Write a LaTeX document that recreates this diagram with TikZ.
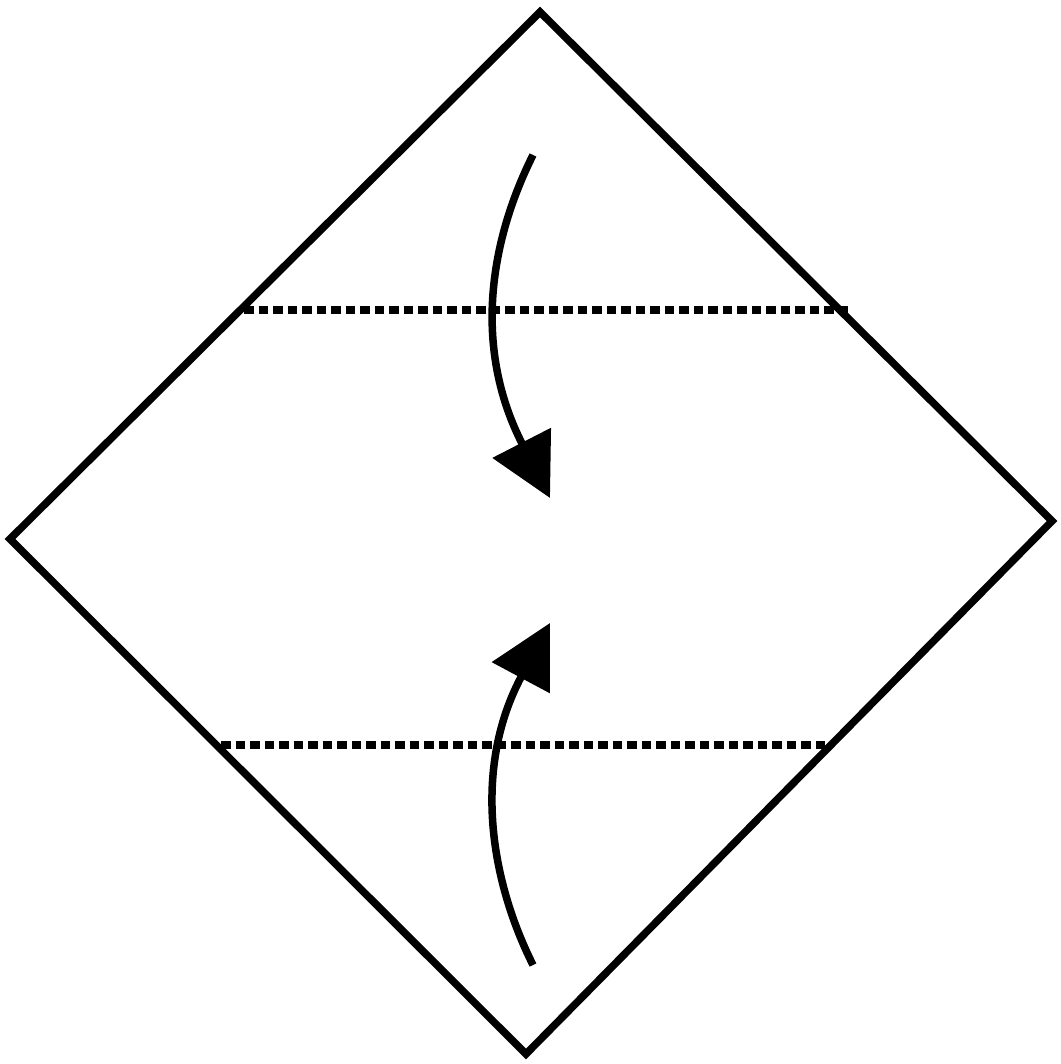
\documentclass[tikz,border=0pt]{standalone}
\usepackage{tikz}
\usetikzlibrary{arrows.meta}
\definecolor{inkc}{HTML}{000000}
\tikzset{
  edge/.style={draw=inkc, line width=0.075cm, line join=miter},
  crease/.style={draw=inkc, line width=0.075cm, dash pattern=on 0.095cm off 0.05cm},
  flap/.style={draw=inkc, line width=0.075cm, -{Triangle[length=0.62cm,width=0.64cm]}},
}

\begin{document}
\begin{tikzpicture}[x=0.01cm, y=-0.01cm]
\useasboundingbox (0,0) rectangle (1061,1064);
\coordinate (top) at (540,12);
\coordinate (right) at (1052,521);
\coordinate (bottom) at (526,1054);
\coordinate (left) at (10,539);
\draw[edge] (top) -- (right) -- (bottom) -- (left) -- cycle;
% valley folds
\coordinate (upl) at (244,310);
\coordinate (upr) at (851,310);
\coordinate (lol) at (221,745);
\coordinate (lor) at (831,745);
\draw[crease] (upl) -- (upr);
\draw[crease] (lol) -- (lor);
% fold arrows
\coordinate (upfrom) at (533,155);
\coordinate (upto) at (550,498);
\coordinate (lofrom) at (533,965);
\coordinate (loto) at (550,623);
\draw[flap] (upfrom) .. controls (488,245) and (474,350) .. (upto);
\draw[flap] (lofrom) .. controls (488,875) and (474,765) .. (loto);
\end{tikzpicture}
\end{document}
